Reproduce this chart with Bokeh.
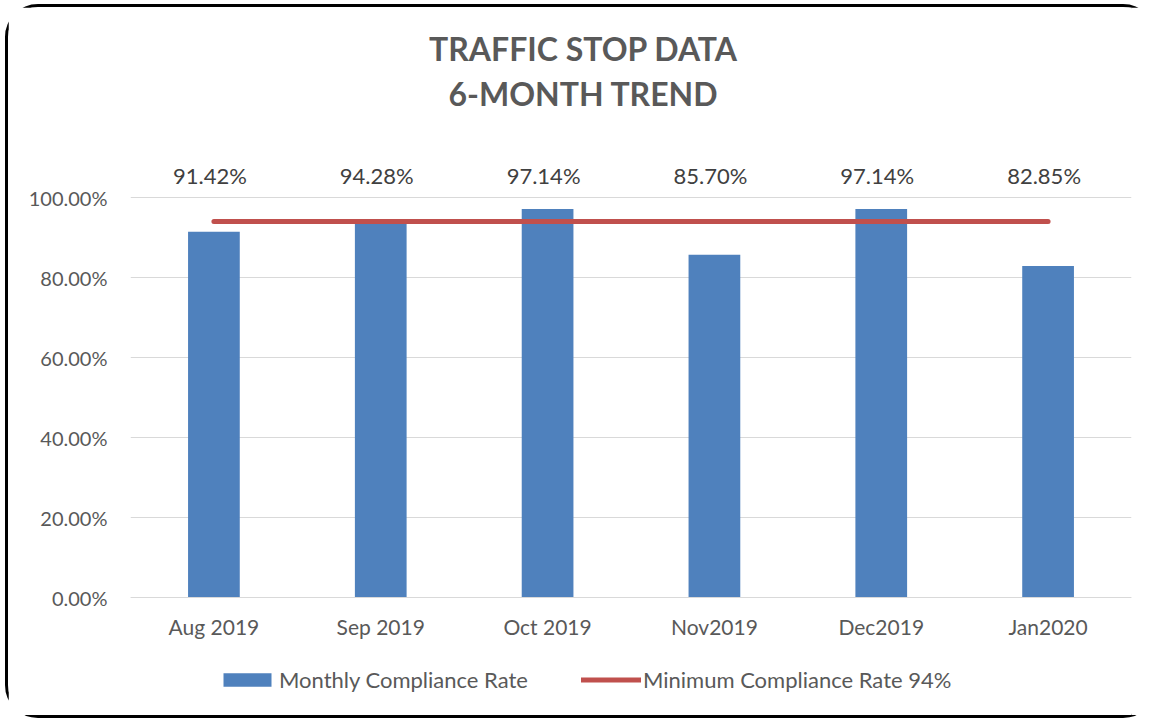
from bokeh.plotting import figure
from bokeh.models import (Range1d, FixedTicker, PrintfTickFormatter, Legend,
                          LegendItem, Label)
from bokeh.embed import file_html
from bokeh.resources import INLINE
from bokeh.core.properties import value

months = ["Aug 2019", "Sep 2019", "Oct 2019", "Nov2019", "Dec2019", "Jan2020"]
rates = [91.42, 94.28, 97.14, 85.70, 97.14, 82.85]
minimum_rate = [94, 94, 94, 94, 94, 94]
rate_labels = ["91.42%", "94.28%", "97.14%", "85.70%", "97.14%", "82.85%"]
y_ticks = [0, 20, 40, 60, 80, 100]

FONT = "Lato"
TXT = "#595959"

p = figure(x_range=months, y_range=Range1d(-29.5, 147.5), width=1145, height=708,
           output_backend="svg", toolbar_location=None,
           min_border_left=122, min_border_right=22, min_border_top=0,
           min_border_bottom=0)
p.styles = {"outline": "3px solid black", "outline-offset": "0px",
            "border-radius": "30px",
            "margin-left": "8px", "margin-top": "7px"}
p.outline_line_color = None
p.background_fill_color = "white"
p.border_fill_color = "white"

bars = p.vbar(x=months, top=rates, width=0.31, fill_color="#4F81BD",
              line_color=None)
line = p.line(x=months, y=minimum_rate, line_width=5, line_color="#C0504D",
              line_cap="round")
p.text(x=months, y=[105.5] * len(months), text=rate_labels, x_offset=-4,
       text_font=value(FONT), text_font_size="22px", text_color="#404040",
       text_align="center", text_baseline="middle")

p.yaxis.ticker = FixedTicker(ticks=y_ticks)
p.yaxis.formatter = PrintfTickFormatter(format="%.2f%%")
p.yaxis.axis_line_color = None
p.yaxis.major_tick_line_color = None
p.yaxis.minor_tick_line_color = None
p.yaxis.major_label_standoff = 17
p.yaxis.major_label_text_font = FONT
p.yaxis.major_label_text_font_size = "20px"
p.yaxis.major_label_text_color = TXT

p.xaxis.fixed_location = 0
p.xaxis.axis_line_color = "#D9D9D9"
p.xaxis.axis_line_width = 1
p.xaxis.major_tick_line_color = None
p.xaxis.minor_tick_line_color = None
p.xaxis.major_label_standoff = 10
p.xaxis.major_label_text_font = FONT
p.xaxis.major_label_text_font_size = "21px"
p.xaxis.major_label_text_color = TXT

p.xgrid.grid_line_color = None
p.ygrid.ticker = FixedTicker(ticks=y_ticks)
p.ygrid.grid_line_color = "#D9D9D9"
p.ygrid.grid_line_width = 1

for txt, yy in [("TRAFFIC STOP DATA", 137.25), ("6-MONTH TREND", 126.0)]:
    p.add_layout(Label(x=453, y=yy, x_units="screen", y_units="data",
                       text=txt, text_font=FONT, text_font_size="32px",
                       text_font_style="bold", text_color=TXT,
                       text_align="center", text_baseline="middle"))

legend = Legend(items=[LegendItem(label="Monthly Compliance Rate", renderers=[bars]),
                       LegendItem(label="Minimum Compliance Rate 94%", renderers=[line])],
                orientation="horizontal", location=(87, 22),
                glyph_width=60, glyph_height=17, label_standoff=2, spacing=53,
                padding=0, margin=0, border_line_color=None,
                background_fill_alpha=0,
                label_text_font=FONT, label_text_font_size="22px",
                label_text_color=TXT)
p.add_layout(legend, "center")

open("out.html", "w").write(file_html(p, INLINE))
